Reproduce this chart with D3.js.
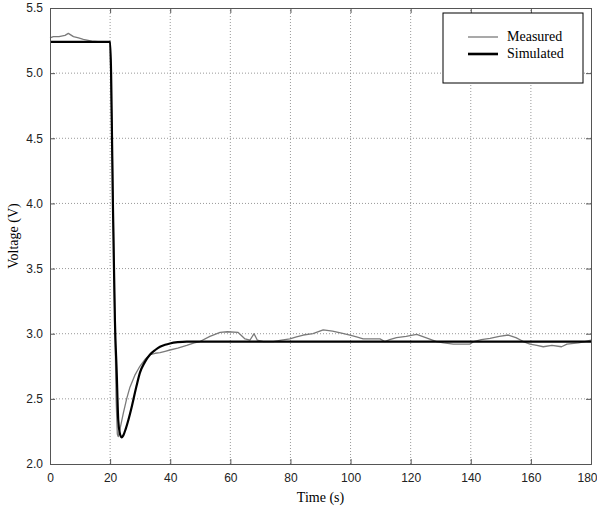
<!DOCTYPE html>
<html>
<head>
<meta charset="utf-8">
<script src="https://cdn.jsdelivr.net/npm/d3@7"></script>
<style>
  body { margin: 0; background: #fff; }
  svg { display: block; }
</style>
</head>
<body>
<div id="chart"></div>
<script>
// #Data
const xTicks = [0, 20, 40, 60, 80, 100, 120, 140, 160, 180];
const yTicks = [2.0, 2.5, 3.0, 3.5, 4.0, 4.5, 5.0, 5.5];

const simT = [0, 20.0, 21.0, 21.6, 22.2, 22.7, 23.2, 23.8, 24.4, 25.2, 26.1, 27.0, 27.7, 28.8, 29.9, 31.5, 33.3, 35.0, 36.6, 38.3, 39.9, 42.5, 45.5, 50, 180];
const simV = [5.24, 5.24, 3.9, 3.10, 2.70, 2.34, 2.24, 2.205, 2.22, 2.27, 2.34, 2.42, 2.49, 2.60, 2.70, 2.78, 2.84, 2.875, 2.90, 2.915, 2.925, 2.935, 2.94, 2.94, 2.94];

const measT = [0, 1.1, 3, 5, 6.1, 7.8, 9.5, 11.1, 13.9, 17, 20.0, 20.8, 21.5, 22.0, 22.4, 22.7, 23.3, 24.4, 25.5, 26.6, 28.2, 29.9, 31.5, 33.3, 35, 36.6, 38.3, 39.9, 42.5, 45.5, 48, 49.9, 53.2, 56.6, 59, 62.6, 64.9, 66.5, 67.9, 69, 71, 74.3, 77, 79.8, 82, 84.3, 87.5, 90.9, 94, 97, 99.8, 102, 104.2, 107, 109.8, 111.4, 113, 115.3, 118.5, 122, 125, 128.6, 131, 134.2, 137, 139.7, 141, 143.5, 146.4, 149.5, 152.5, 155, 157.5, 159.7, 162, 164.1, 167, 170.2, 172, 175.8, 178, 180];
const measV = [5.27, 5.28, 5.28, 5.29, 5.305, 5.28, 5.27, 5.26, 5.245, 5.24, 5.24, 4.3, 3.2, 2.5, 2.23, 2.21, 2.27, 2.39, 2.50, 2.59, 2.68, 2.75, 2.80, 2.84, 2.85, 2.855, 2.865, 2.875, 2.89, 2.91, 2.93, 2.94, 2.98, 3.01, 3.015, 3.01, 2.96, 2.95, 3.0, 2.95, 2.94, 2.94, 2.95, 2.96, 2.975, 2.99, 3.0, 3.03, 3.02, 3.005, 2.99, 2.975, 2.96, 2.96, 2.96, 2.94, 2.955, 2.97, 2.98, 2.995, 2.97, 2.94, 2.93, 2.92, 2.92, 2.92, 2.94, 2.955, 2.965, 2.98, 2.99, 2.97, 2.94, 2.92, 2.91, 2.90, 2.91, 2.90, 2.92, 2.93, 2.94, 2.95];

const seriesNames = ['Measured', 'Simulated'];

// #SVG dimensions
const w = 597;
const h = 510;
const margin = {top: 8, right: 6, bottom: 46, left: 50};

const svg = d3.select('#chart')
              .append('svg')
              .attr('width', w)
              .attr('height', h);

// #Scales
const xScale = d3.scaleLinear()
                 .domain([0, 180])
                 .range([margin.left, w - margin.right]);
const yScale = d3.scaleLinear()
                 .domain([2, 5.5])
                 .range([h - margin.bottom, margin.top]);

const frameColor = '#555';
const tickFont = '"Liberation Sans", Arial, sans-serif';
const labelFont = '"Liberation Serif", "Times New Roman", serif';

// #Grid (dotted)
const grid = svg.append('g').attr('class', 'grid');
grid.selectAll('line.gx')
    .data(xTicks.slice(1, -1))
    .enter()
    .append('line')
    .attr('x1', d => xScale(d))
    .attr('x2', d => xScale(d))
    .attr('y1', yScale(2))
    .attr('y2', yScale(5.5))
    .attr('stroke', '#999')
    .attr('stroke-dasharray', '1,2');
grid.selectAll('line.gy')
    .data(yTicks.slice(1, -1))
    .enter()
    .append('line')
    .attr('x1', xScale(0))
    .attr('x2', xScale(180))
    .attr('y1', d => yScale(d))
    .attr('y2', d => yScale(d))
    .attr('stroke', '#999')
    .attr('stroke-dasharray', '1,2');

// #Lines
const lineMeas = d3.line()
                   .x((d, i) => xScale(measT[i]))
                   .y(d => yScale(d));
const lineSim = d3.line()
                  .x((d, i) => xScale(simT[i]))
                  .y(d => yScale(d))
                  .curve(d3.curveMonotoneX);

svg.append('path')
   .datum(measV)
   .attr('d', lineMeas)
   .attr('fill', 'none')
   .attr('stroke', '#7a7a7a')
   .attr('stroke-width', 1.3)
   .attr('stroke-linejoin', 'round');

svg.append('path')
   .datum(simV)
   .attr('d', lineSim)
   .attr('fill', 'none')
   .attr('stroke', '#000')
   .attr('stroke-width', 2.2)
   .attr('stroke-linejoin', 'round');

// #Axes (ticks inward on all four sides)
const xAxis = d3.axisBottom(xScale).tickValues(xTicks).tickSize(-5).tickPadding(9).tickFormat(d3.format('d'));
const yAxis = d3.axisLeft(yScale).tickValues(yTicks).tickSize(-5).tickPadding(7).tickFormat(d3.format('.1f'));
const xAxisTop = d3.axisTop(xScale).tickValues(xTicks).tickSize(-5).tickFormat('');
const yAxisRight = d3.axisRight(yScale).tickValues(yTicks).tickSize(-5).tickFormat('');

const gx = svg.append('g')
              .attr('transform', 'translate(0,' + (h - margin.bottom) + ')')
              .call(xAxis);
const gy = svg.append('g')
              .attr('transform', 'translate(' + margin.left + ',0)')
              .call(yAxis);
const gxt = svg.append('g')
               .attr('transform', 'translate(0,' + margin.top + ')')
               .call(xAxisTop);
const gyr = svg.append('g')
               .attr('transform', 'translate(' + (w - margin.right) + ',0)')
               .call(yAxisRight);

[gx, gy, gxt, gyr].forEach(g => {
  g.selectAll('path.domain').attr('stroke', frameColor);
  g.selectAll('.tick line').attr('stroke', frameColor);
  g.selectAll('.tick text')
   .attr('fill', '#222')
   .style('font-family', tickFont)
   .style('font-size', '12px');
});
// last x label is pulled inside the figure, as in the original
gx.selectAll('.tick text').filter(d => d === 180).attr('dx', -4);

// #Axis titles
svg.append('text')
   .attr('x', (xScale(0) + xScale(180)) / 2)
   .attr('y', h - 8)
   .attr('text-anchor', 'middle')
   .style('font-family', labelFont)
   .style('font-size', '14px')
   .text('Time (s)');

svg.append('text')
   .attr('transform', 'translate(18,' + ((yScale(2) + yScale(5.5)) / 2) + ') rotate(-90)')
   .attr('text-anchor', 'middle')
   .style('font-family', labelFont)
   .style('font-size', '14px')
   .text('Voltage (V)');

// #Legend
const legendWidth = 140;
const legendHeight = 70;
const legend = svg.append('g')
                  .attr('transform', 'translate(' + (w - margin.right - 8 - legendWidth) + ',' + (margin.top + 5) + ')');
legend.append('rect')
      .attr('width', legendWidth)
      .attr('height', legendHeight)
      .attr('fill', '#fff')
      .attr('stroke', '#000')
      .attr('stroke-width', 1);

const legendItems = legend.selectAll('g.item')
                          .data(seriesNames)
                          .enter()
                          .append('g')
                          .attr('transform', (d, i) => 'translate(0,' + (24 + i * 17) + ')');
legendItems.append('line')
           .attr('x1', 25)
           .attr('x2', 55)
           .attr('stroke', (d, i) => i === 0 ? '#7a7a7a' : '#000')
           .attr('stroke-width', (d, i) => i === 0 ? 1.3 : 2.6);
legendItems.append('text')
           .attr('x', 64)
           .attr('y', 4)
           .style('font-family', labelFont)
           .style('font-size', '14px')
           .text(d => d);
</script>
</body>
</html>
